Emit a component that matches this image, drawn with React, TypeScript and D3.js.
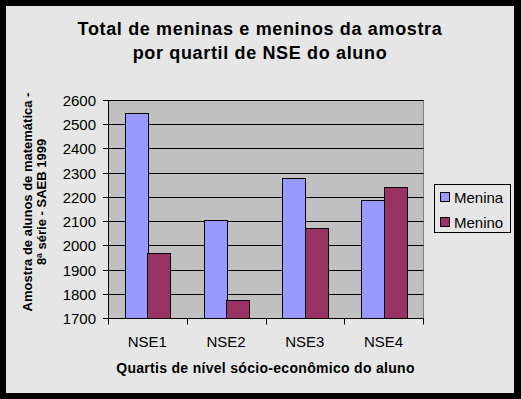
import React from 'react';
import * as d3 from 'd3';

const categories = ['NSE1', 'NSE2', 'NSE3', 'NSE4'];
const seriesNames = ['Menina', 'Menino'];
const menina = [2547, 2105, 2279, 2188];
const menino = [1969, 1774, 2072, 2242];
const yTicks = [1700, 1800, 1900, 2000, 2100, 2200, 2300, 2400, 2500, 2600];
const colors = ['#9999ff', '#993366'];

const W = 521;
const H = 399;
const font = '"Liberation Sans", Arial, sans-serif';

const App = () => {
  const left = 108, right = 423, top = 100, bottom = 318;

  const x = d3.scaleBand().domain(categories).range([left, right]).padding(0);
  const xs = d3.scaleBand().domain(seriesNames).range([0, x.bandwidth()])
    .paddingInner(0).paddingOuter(0.75);
  const y = d3.scaleLinear().domain([1700, 2600]).range([bottom, top]);
  const py = (v: number) => Math.round(y(v)) + 0.5;

  const values = [menina, menino];

  return (
    <svg width={W} height={H} style={{ position: 'absolute', left: 0, top: 0 }}
      fontFamily={font}>
      <rect x={0} y={0} width={W} height={H} fill="#000" />
      <rect x={6} y={6} width={508} height={387} fill="#e6e6e6" />

      {/* title */}
      <text x={260} y={35} textAnchor="middle" fontSize={18} fontWeight="bold"
        letterSpacing={0.65}>Total de meninas e meninos da amostra</text>
      <text x={260} y={59} textAnchor="middle" fontSize={18} fontWeight="bold"
        letterSpacing={0.65}>por quartil de NSE do aluno</text>

      {/* plot area */}
      <rect x={left + 0.5} y={top + 0.5} width={right - left} height={bottom - top}
        fill="#c0c0c0" stroke="#808080" />
      {yTicks.map(t => (
        <line key={t} x1={left - 5} x2={right + 0.5} y1={py(t)} y2={py(t)} stroke="#000" />
      ))}

      {/* bars */}
      {categories.map((c, i) => seriesNames.map((s, j) => {
        const bx = x(c)! + xs(s)!;
        const v = values[j][i];
        return (
          <rect key={c + s} x={Math.round(bx) + 0.5} y={py(v)}
            width={Math.round(xs.bandwidth())} height={py(1700) - py(v)}
            fill={colors[j]} stroke="#000" />
        );
      }))}

      {/* axes */}
      <line x1={left + 0.5} x2={left + 0.5} y1={top} y2={py(1700)} stroke="#000" />
      <line x1={left} x2={right + 1} y1={py(1700)} y2={py(1700)} stroke="#000" />
      {categories.map(c => (
        <line key={c} x1={Math.round(x(c)!) + 0.5} x2={Math.round(x(c)!) + 0.5}
          y1={py(1700)} y2={py(1700) + 6} stroke="#000" />
      ))}
      <line x1={right + 0.5} x2={right + 0.5} y1={py(1700)} y2={py(1700) + 6} stroke="#000" />

      {yTicks.map(t => (
        <text key={t} x={96} y={py(t) + 5} textAnchor="end" fontSize={15}>{t}</text>
      ))}
      {categories.map(c => (
        <text key={c} x={x(c)! + x.bandwidth() / 2} y={347} textAnchor="middle"
          fontSize={15}>{c}</text>
      ))}

      {/* axis titles */}
      <text x={265.5} y={373} textAnchor="middle" fontSize={14} fontWeight="bold"
        letterSpacing={0.3}>Quartis de nível sócio-econômico do aluno</text>
      <g transform="translate(31.5,202) rotate(-90)">
        <text x={0} y={0} textAnchor="middle" fontSize={13} fontWeight="bold">
          Amostra de alunos de matemática -</text>
        <text x={0} y={14} textAnchor="middle" fontSize={13} fontWeight="bold">
          8ª série - SAEB 1999</text>
      </g>

      {/* legend */}
      <rect x={434.5} y={184.5} width={76} height={48} fill="none" stroke="#000" />
      {seriesNames.map((s, j) => (
        <g key={s} transform={`translate(0,${j * 25})`}>
          <rect x={440.5} y={192.5} width={9} height={9} fill={colors[j]} stroke="#000" />
          <text x={454} y={202.5} fontSize={15}>{s}</text>
        </g>
      ))}
    </svg>
  );
};

export default App;
